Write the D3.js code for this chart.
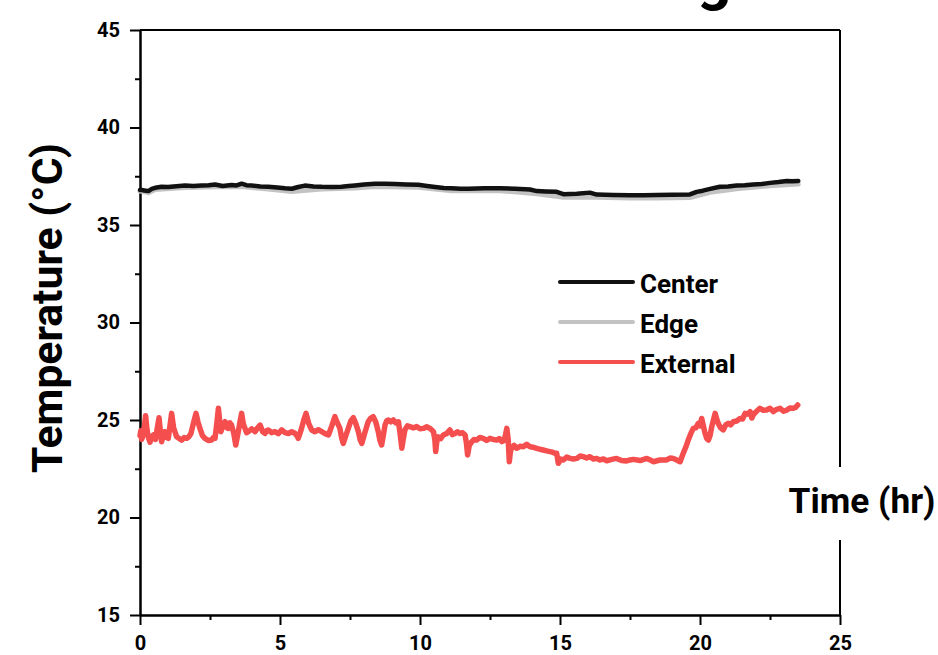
<!DOCTYPE html>
<html>
<head>
<meta charset="utf-8">
<script src="https://cdn.jsdelivr.net/npm/d3@7"></script>
<style>
  html, body { margin: 0; padding: 0; background: #fff; }
  svg { display: block; }
  text { font-family: Roboto, "Liberation Sans", sans-serif; font-weight: 700; fill: #000; }
</style>
</head>
<body>
<svg id="chart" width="938" height="655"></svg>
<script>
// ---- data ----
const xMajorTicks = [0, 5, 10, 15, 20, 25];
const xMinorTicks = [2.5, 7.5, 12.5, 17.5, 22.5];
const yMajorTicks = [15, 20, 25, 30, 35, 40, 45];
const yMinorTicks = [17.5, 22.5, 27.5, 32.5, 37.5, 42.5];

const seriesNames = ["Center", "Edge", "External"];
const seriesColors = ["#111111", "#c3c3c3", "#f44e4e"];

const centerTime = [0, 0.06, 0.20, 0.30, 0.42, 0.54, 0.77, 1.00, 1.20, 1.40, 1.61, 1.90, 2.20, 2.45, 2.68, 2.95, 3.27, 3.45, 3.63, 3.80, 3.99, 4.30, 4.58, 4.90, 5.18, 5.42, 5.65, 5.89, 6.20, 6.49, 6.85, 7.20, 7.45, 7.68, 8.00, 8.39, 8.75, 9.11, 9.50, 9.94, 10.25, 10.54, 10.85, 11.13, 11.45, 11.73, 12.30, 12.86, 13.40, 13.93, 14.17, 14.50, 14.88, 15.12, 15.60, 16.07, 16.31, 16.90, 17.50, 18.00, 18.45, 19.00, 19.64, 19.88, 20.10, 20.36, 20.71, 21.00, 21.31, 21.60, 21.90, 22.20, 22.50, 22.80, 23.10, 23.30, 23.51];
const centerTemp = [36.80, 36.79, 36.76, 36.74, 36.85, 36.91, 36.96, 36.95, 36.98, 37.00, 37.02, 37.00, 37.02, 37.04, 37.08, 37.00, 37.05, 37.03, 37.12, 37.04, 37.02, 36.98, 36.96, 36.92, 36.88, 36.86, 36.95, 37.02, 36.98, 36.96, 36.95, 36.96, 37.00, 37.03, 37.08, 37.12, 37.12, 37.10, 37.08, 37.06, 37.00, 36.95, 36.90, 36.88, 36.86, 36.86, 36.88, 36.88, 36.86, 36.82, 36.74, 36.72, 36.70, 36.58, 36.60, 36.66, 36.56, 36.54, 36.52, 36.53, 36.54, 36.55, 36.57, 36.70, 36.76, 36.85, 36.96, 36.98, 37.02, 37.04, 37.08, 37.10, 37.16, 37.20, 37.26, 37.24, 37.26];

const edgeTime = [0, 0.30, 0.54, 1.61, 2.68, 3.63, 4.58, 5.42, 6.49, 7.68, 8.39, 9.94, 11.13, 12.86, 14.17, 15.12, 16.31, 17.50, 18.45, 19.64, 20.36, 21.31, 22.50, 23.51];
const edgeTemp = [36.74, 36.66, 36.82, 36.92, 36.96, 36.98, 36.84, 36.72, 36.84, 36.90, 36.98, 36.94, 36.76, 36.76, 36.60, 36.42, 36.42, 36.38, 36.39, 36.41, 36.68, 36.86, 37.01, 37.10];

const externalTime = [0, 0.03, 0.06, 0.13, 0.20, 0.25, 0.30, 0.36, 0.42, 0.48, 0.55, 0.62, 0.68, 0.73, 0.77, 0.83, 0.89, 0.95, 1.01, 1.07, 1.13, 1.20, 1.31, 1.40, 1.49, 1.58, 1.67, 1.75, 1.82, 1.92, 2.00, 2.07, 2.14, 2.23, 2.32, 2.44, 2.56, 2.62, 2.68, 2.75, 2.80, 2.85, 2.89, 2.97, 3.04, 3.10, 3.15, 3.21, 3.27, 3.35, 3.42, 3.47, 3.51, 3.57, 3.63, 3.69, 3.75, 3.81, 3.87, 3.99, 4.11, 4.20, 4.29, 4.38, 4.46, 4.52, 4.58, 4.70, 4.82, 4.94, 5.06, 5.18, 5.30, 5.42, 5.54, 5.60, 5.65, 5.71, 5.77, 5.85, 5.93, 6.03, 6.13, 6.25, 6.37, 6.49, 6.61, 6.73, 6.85, 6.96, 7.05, 7.14, 7.20, 7.26, 7.35, 7.44, 7.53, 7.62, 7.71, 7.80, 7.86, 7.92, 8.04, 8.15, 8.24, 8.33, 8.42, 8.51, 8.57, 8.63, 8.69, 8.75, 8.81, 8.87, 8.96, 9.05, 9.14, 9.23, 9.29, 9.35, 9.40, 9.46, 9.55, 9.64, 9.76, 9.88, 10.00, 10.12, 10.24, 10.36, 10.48, 10.53, 10.56, 10.60, 10.65, 10.74, 10.83, 10.95, 11.07, 11.16, 11.25, 11.34, 11.43, 11.52, 11.61, 11.66, 11.70, 11.76, 11.85, 11.93, 12.02, 12.14, 12.26, 12.38, 12.50, 12.62, 12.74, 12.83, 12.92, 13.00, 13.05, 13.10, 13.15, 13.19, 13.23, 13.27, 13.36, 13.45, 13.57, 13.69, 13.81, 13.93, 14.05, 14.17, 14.28, 14.40, 14.52, 14.64, 14.73, 14.82, 14.88, 14.94, 15.03, 15.12, 15.24, 15.36, 15.48, 15.60, 15.72, 15.83, 15.95, 16.07, 16.19, 16.31, 16.43, 16.55, 16.67, 16.85, 17.02, 17.20, 17.38, 17.50, 17.62, 17.86, 18.10, 18.22, 18.33, 18.57, 18.81, 18.93, 19.05, 19.17, 19.29, 19.40, 19.49, 19.58, 19.67, 19.76, 19.85, 19.94, 20.00, 20.06, 20.12, 20.18, 20.24, 20.30, 20.36, 20.42, 20.48, 20.54, 20.60, 20.65, 20.74, 20.83, 20.92, 21.01, 21.10, 21.19, 21.31, 21.43, 21.52, 21.61, 21.70, 21.79, 21.85, 21.90, 22.02, 22.14, 22.26, 22.38, 22.50, 22.62, 22.74, 22.86, 22.98, 23.10, 23.22, 23.33, 23.42, 23.49];
const externalTemp = [24.20, 24.45, 24.00, 24.30, 25.22, 24.50, 24.10, 23.86, 24.15, 24.23, 24.00, 24.60, 25.12, 24.40, 23.89, 24.20, 24.40, 24.10, 24.06, 24.70, 25.34, 24.60, 24.14, 24.05, 23.97, 24.10, 24.06, 24.15, 24.31, 24.90, 25.34, 24.90, 24.57, 24.20, 24.06, 23.95, 23.97, 24.10, 24.06, 24.90, 25.60, 24.90, 24.40, 24.75, 24.91, 24.60, 24.57, 24.85, 24.74, 24.30, 23.72, 24.10, 24.40, 24.90, 25.34, 24.80, 24.57, 24.35, 24.40, 24.55, 24.40, 24.60, 24.74, 24.40, 24.31, 24.45, 24.49, 24.35, 24.40, 24.30, 24.49, 24.35, 24.31, 24.40, 24.31, 24.20, 24.06, 24.30, 24.57, 25.00, 25.34, 24.80, 24.49, 24.40, 24.50, 24.40, 24.30, 24.23, 24.70, 25.17, 24.85, 24.57, 24.10, 23.80, 24.20, 24.57, 24.95, 25.12, 24.80, 24.40, 24.00, 23.80, 24.40, 24.91, 25.10, 25.17, 24.90, 24.40, 23.95, 23.72, 24.20, 24.74, 24.95, 25.00, 24.90, 25.00, 24.85, 24.91, 24.30, 23.55, 24.00, 24.49, 24.70, 24.66, 24.60, 24.66, 24.55, 24.57, 24.65, 24.57, 24.40, 24.00, 23.38, 23.90, 24.14, 24.05, 24.23, 24.30, 24.49, 24.25, 24.31, 24.40, 24.31, 24.35, 24.23, 23.80, 23.21, 23.70, 23.89, 24.00, 23.97, 24.10, 24.06, 23.95, 24.06, 24.00, 23.97, 24.05, 23.89, 23.95, 24.20, 24.57, 24.00, 22.86, 23.40, 23.55, 23.70, 23.55, 23.65, 23.63, 23.75, 23.63, 23.60, 23.55, 23.50, 23.46, 23.42, 23.38, 23.35, 23.29, 23.30, 22.78, 23.00, 22.95, 23.10, 23.03, 23.00, 23.03, 23.15, 23.12, 23.05, 23.12, 23.00, 23.03, 22.95, 23.00, 22.91, 22.98, 23.03, 22.92, 22.90, 22.95, 22.98, 22.92, 23.03, 22.95, 22.86, 22.95, 22.95, 23.05, 23.03, 22.95, 22.86, 23.29, 23.60, 23.97, 24.30, 24.57, 24.60, 24.83, 24.70, 25.08, 24.70, 24.32, 24.05, 23.97, 24.20, 24.66, 25.00, 25.34, 25.05, 24.83, 24.60, 24.49, 24.75, 24.83, 24.75, 24.91, 24.95, 25.08, 25.05, 25.34, 25.30, 25.43, 25.10, 25.26, 25.45, 25.60, 25.50, 25.51, 25.60, 25.43, 25.55, 25.60, 25.45, 25.51, 25.62, 25.60, 25.65, 25.77];

const seriesTimes = [centerTime, edgeTime, externalTime];
const seriesTemps = [centerTemp, edgeTemp, externalTemp];

const xTitle = "Time (hr)";
const yTitle = "Temperature (°C)";

// ---- drawing ----
const svg = d3.select("#chart");
const x = d3.scaleLinear().domain([0, 25]).range([140, 840]);
const y = d3.scaleLinear().domain([15, 45]).range([615, 30]);

// partially visible title glyph at the top edge
svg.append("text").attr("x", 697).attr("y", -1).attr("font-size", 60).text("g");

// frame top and right
svg.append("line").attr("x1", x(0)).attr("x2", x(25)).attr("y1", y(45)).attr("y2", y(45))
  .attr("stroke", "#000").attr("stroke-width", 2);
svg.append("line").attr("x1", x(25)).attr("x2", x(25)).attr("y1", y(45)).attr("y2", y(15))
  .attr("stroke", "#000").attr("stroke-width", 2);

function styleAxis(g) {
  g.selectAll("path.domain").attr("stroke", "#000").attr("stroke-width", 2);
  g.selectAll(".tick line").attr("stroke", "#000").attr("stroke-width", 2);
  g.selectAll("text").attr("font-size", 20).attr("font-family", "Roboto, sans-serif").attr("font-weight", 700).attr("fill", "#000");
}

// x axis
const gxMinor = svg.append("g").attr("transform", `translate(0,${y(15)})`)
  .call(d3.axisBottom(x).tickValues(xMinorTicks).tickSize(5).tickSizeOuter(0).tickFormat(""));
styleAxis(gxMinor);
const gx = svg.append("g").attr("transform", `translate(0,${y(15)})`)
  .call(d3.axisBottom(x).tickValues(xMajorTicks).tickSize(10).tickSizeOuter(0).tickPadding(11).tickFormat(d3.format("d")));
styleAxis(gx);

// y axis
const gyMinor = svg.append("g").attr("transform", `translate(${x(0)},0)`)
  .call(d3.axisLeft(y).tickValues(yMinorTicks).tickSize(5).tickSizeOuter(0).tickFormat(""));
styleAxis(gyMinor);
const gy = svg.append("g").attr("transform", `translate(${x(0)},0)`)
  .call(d3.axisLeft(y).tickValues(yMajorTicks).tickSize(10).tickSizeOuter(0).tickPadding(10).tickFormat(d3.format("d")));
styleAxis(gy);

// lines (Edge drawn first, then Center, then External)
const lineGen = d3.line().x(d => x(d[0])).y(d => y(d[1]));
const drawOrder = [1, 0, 2];
const widths = [4.5, 5, 5.5];
drawOrder.forEach(i => {
  const pts = seriesTimes[i].map((t, j) => [t, seriesTemps[i][j]]);
  svg.append("path").datum(pts).attr("d", lineGen)
    .attr("fill", "none").attr("stroke", seriesColors[i])
    .attr("stroke-width", widths[i]).attr("stroke-linejoin", "round").attr("stroke-linecap", "round");
});

// legend
const legendY = [282, 322, 362];
seriesNames.forEach((name, i) => {
  svg.append("line").attr("x1", 560).attr("x2", 633).attr("y1", legendY[i]).attr("y2", legendY[i])
    .attr("stroke", seriesColors[i]).attr("stroke-width", 4).attr("stroke-linecap", "round");
  svg.append("text").attr("x", 640).attr("y", legendY[i] + 11).attr("font-size", 26).text(name);
});

// y title
const yt = svg.append("text").attr("transform", "translate(62,308) rotate(-90)")
  .attr("text-anchor", "middle").attr("font-size", 40).text(yTitle);
let w = yt.node().getComputedTextLength();
yt.attr("font-size", 40 * 330 / w);

// x title with white backing box
svg.append("rect").attr("x", 540).attr("y", 467).attr("width", 398).attr("height", 73).attr("fill", "#fff");
const xt = svg.append("text").attr("x", 862).attr("y", 513).attr("text-anchor", "middle")
  .attr("font-size", 38).text(xTitle);
w = xt.node().getComputedTextLength();
xt.attr("font-size", 38 * 147 / w);
</script>
</body>
</html>
